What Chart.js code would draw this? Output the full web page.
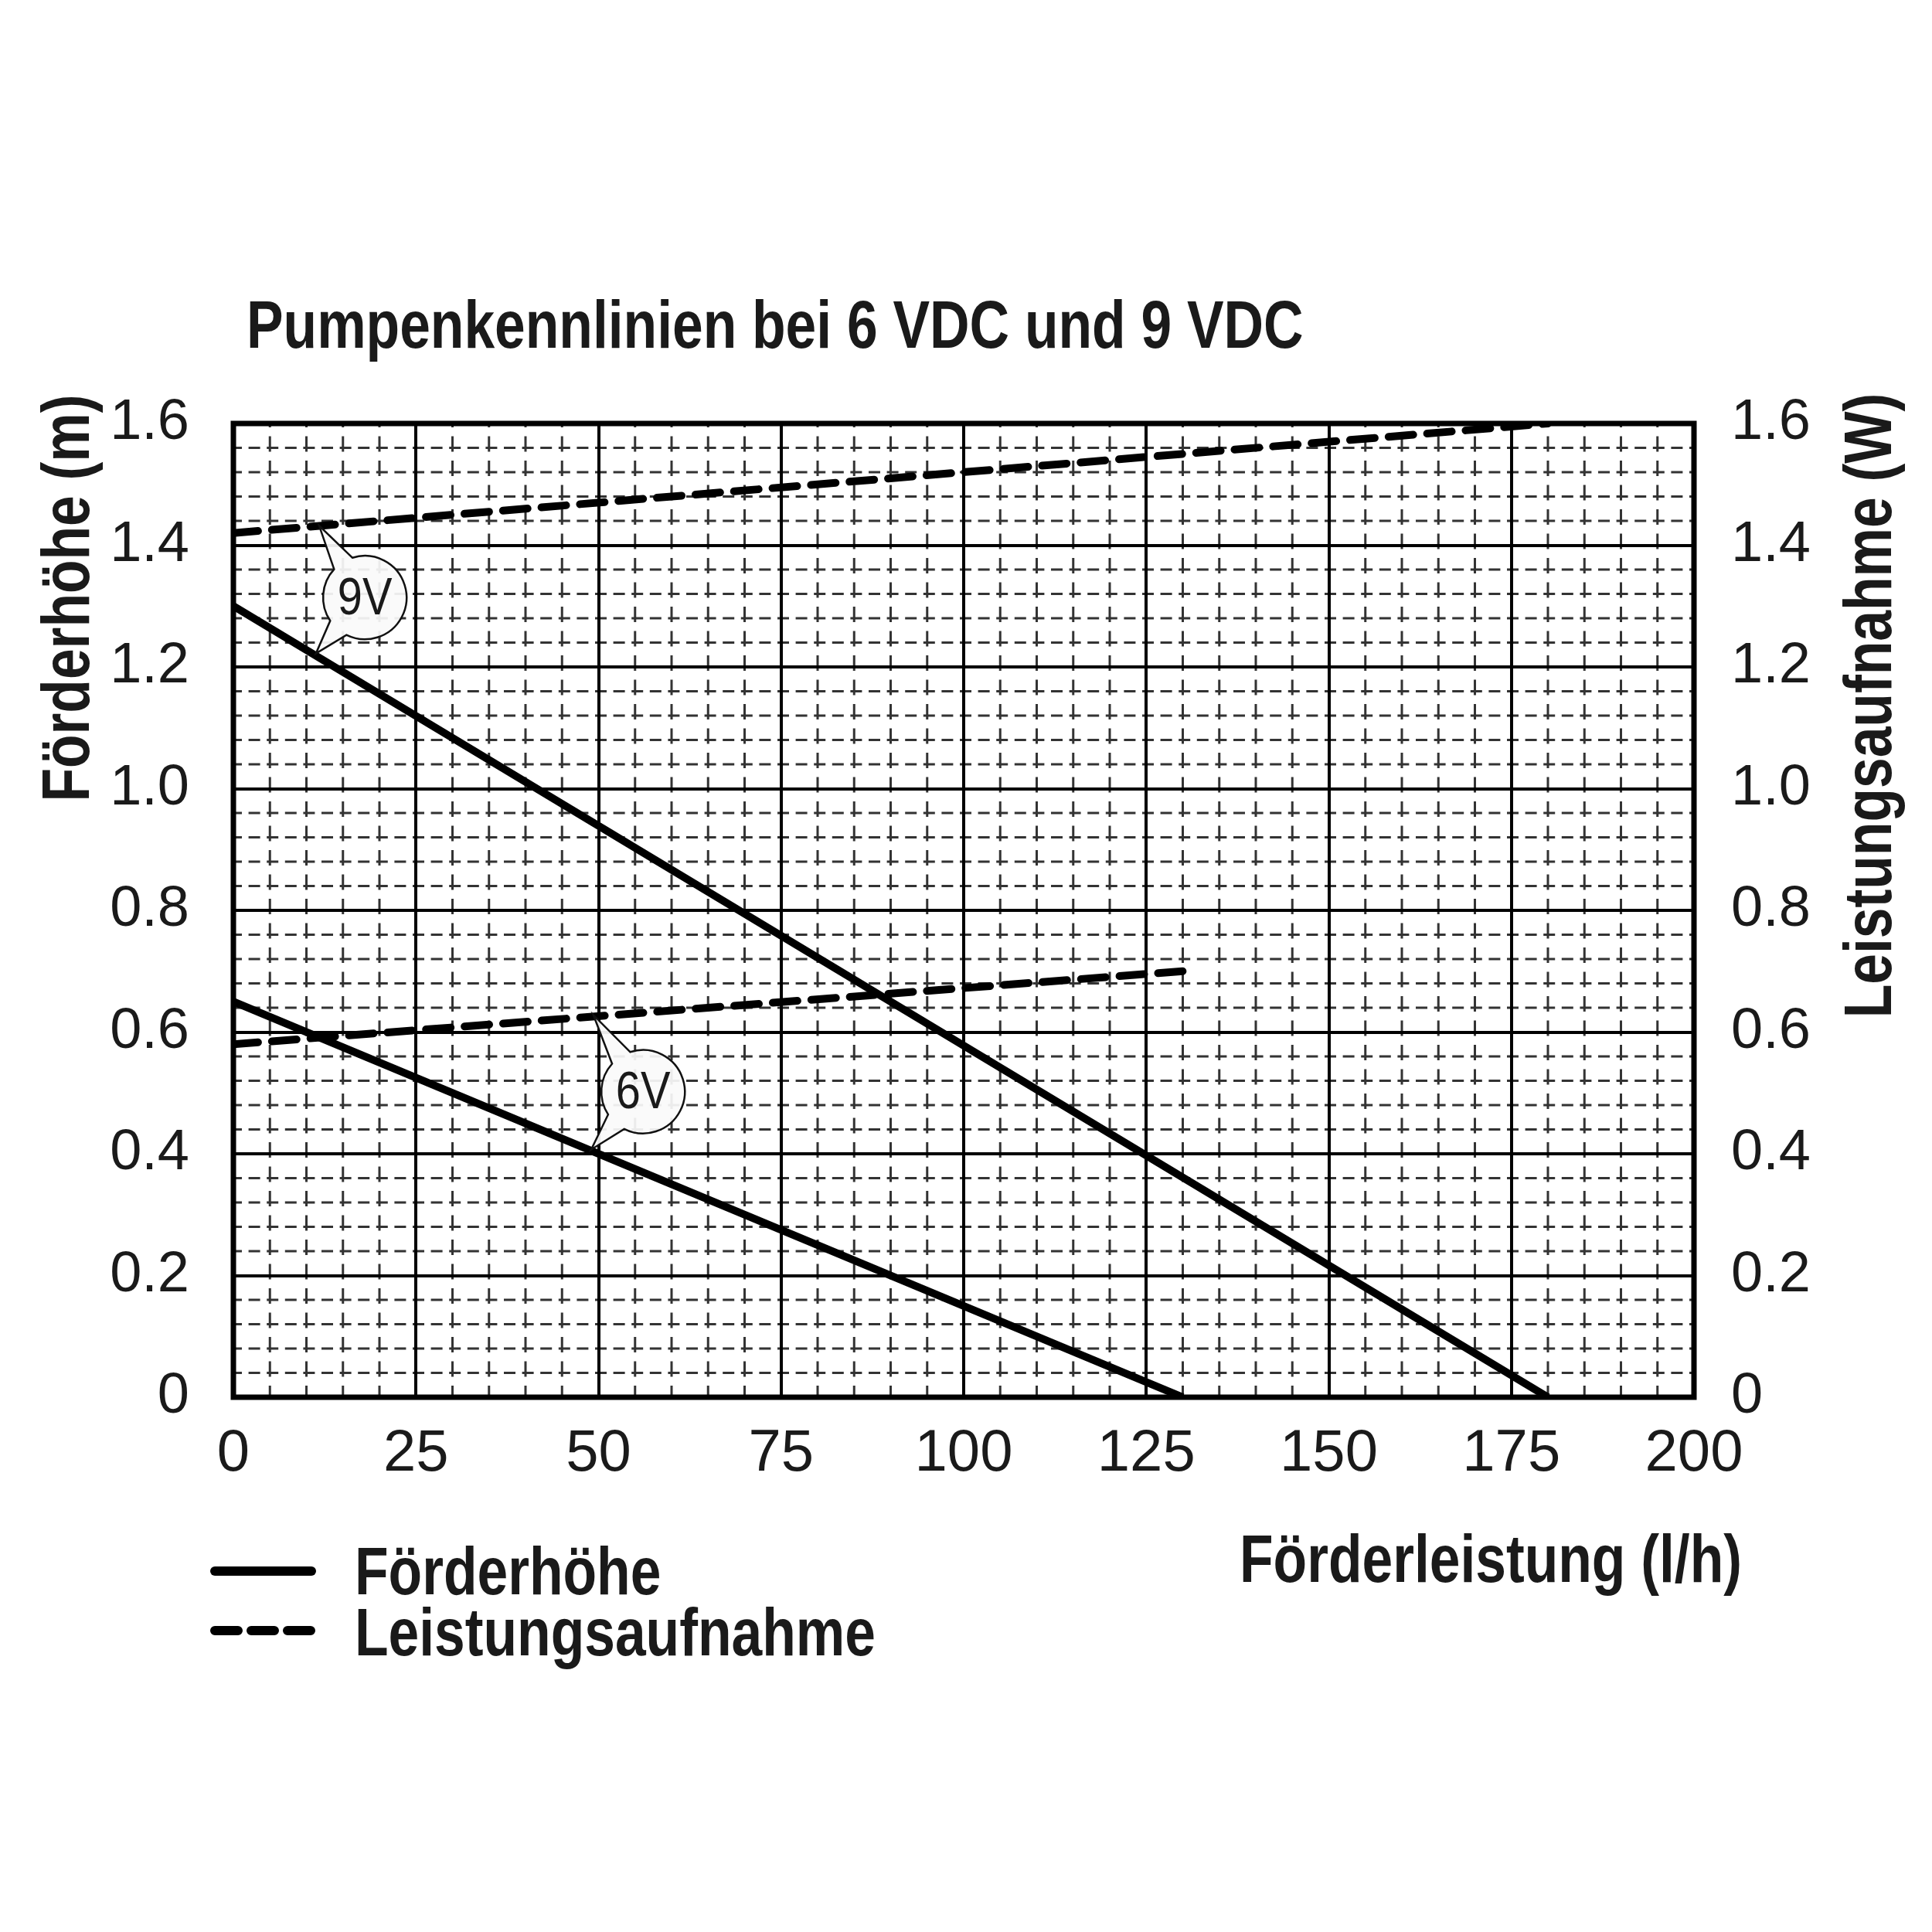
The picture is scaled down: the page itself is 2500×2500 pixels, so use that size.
<!DOCTYPE html>
<html>
<head>
<meta charset="utf-8">
<script src="https://cdn.jsdelivr.net/npm/chart.js@4.4.1/dist/chart.umd.min.js"></script>
<style>
  html, body { margin: 0; padding: 0; background: #ffffff; }
  #wrap { width: 2500px; height: 2500px; }
</style>
</head>
<body>
<div id="wrap"><canvas id="c" width="2500" height="2500"></canvas></div>
<script>
// ---- data ----
const flow9V = [0, 180];          // Förderleistung (l/h)
const head9V = [1.30, 0];         // Förderhöhe (m)
const flow6V = [0, 130];
const head6V = [0.65, 0];
const powerFlow9V = [0, 180];
const power9V = [1.42, 1.60];     // Leistungsaufnahme (W)
const powerFlow6V = [0, 130];
const power6V = [0.58, 0.70];

const xTickLabels = ['0', '25', '50', '75', '100', '125', '150', '175', '200'];
const yTickLabels = ['0', '0.2', '0.4', '0.6', '0.8', '1.0', '1.2', '1.4', '1.6'];
const legendLabels = ['Förderhöhe', 'Leistungsaufnahme'];
const chartTitle = 'Pumpenkennlinien bei 6 VDC und 9 VDC';
const xTitle = 'Förderleistung (l/h)';
const yTitle = 'Förderhöhe (m)';
const y2Title = 'Leistungsaufnahme (W)';

// callouts: label, centre (x,y), tip on power curve, tip on head curve
const calloutLabels = ['9V', '6V'];
const calloutCentres = [[18.0, 1.314], [56.1, 0.502]];
const calloutTipsPower = [[11.75, 1.432], [49.3, 0.628]];
const calloutTipsHead = [[11.3, 1.222], [49.0, 0.407]];

function pts(xs, ys) { return xs.map((x, i) => ({ x: x, y: ys[i] })); }

const FAM = "'Liberation Sans', Arial, sans-serif";
const INK = '#1a1a1a';

// draws condensed text (horizontal squeeze), optional rotation
function condText(ctx, text, x, y, opts) {
  ctx.save();
  ctx.translate(x, y);
  if (opts.rotate) ctx.rotate(opts.rotate);
  ctx.scale(opts.sx || 0.82, 1);
  ctx.font = (opts.bold ? 'bold ' : '') + opts.size + 'px ' + FAM;
  ctx.textAlign = opts.align || 'left';
  ctx.textBaseline = opts.baseline || 'alphabetic';
  ctx.fillStyle = opts.color || INK;
  ctx.fillText(text, 0, 0);
  ctx.restore();
}

const extras = {
  id: 'extras',
  beforeDraw(chart) {
    const { ctx, chartArea: a } = chart;
    const xs = chart.scales.x, ys = chart.scales.y;
    ctx.save();
    ctx.strokeStyle = '#333';
    ctx.lineWidth = 3;
    // minor vertical lines every 5 l/h
    ctx.setLineDash([20, 11.5]);
    for (let v = 5; v < 200; v += 5) {
      if (v % 25 === 0) continue;
      const px = xs.getPixelForValue(v);
      ctx.lineDashOffset = 5;
      ctx.beginPath(); ctx.moveTo(px, a.bottom); ctx.lineTo(px, a.top); ctx.stroke();
    }
    // minor horizontal lines every 0.04 m
    ctx.setLineDash([15, 8.6]);
    for (let k = 1; k < 40; k++) {
      if (k % 5 === 0) continue;
      const py = ys.getPixelForValue(k * 0.04);
      ctx.lineDashOffset = 4;
      ctx.beginPath(); ctx.moveTo(a.left, py); ctx.lineTo(a.right, py); ctx.stroke();
    }
    ctx.restore();
  },
  afterDatasetsDraw(chart) {
    const { ctx, chartArea: a } = chart;
    const xs = chart.scales.x, ys = chart.scales.y;
    ctx.save();
    // frame
    ctx.strokeStyle = '#000';
    ctx.lineWidth = 7;
    ctx.setLineDash([]);
    ctx.strokeRect(a.left, a.top, a.right - a.left, a.bottom - a.top);

    // callouts
    const R = 54, d = 15 * Math.PI / 180;
    calloutLabels.forEach((lab, i) => {
      const cx = xs.getPixelForValue(calloutCentres[i][0]);
      const cy = ys.getPixelForValue(calloutCentres[i][1]);
      const t1x = xs.getPixelForValue(calloutTipsPower[i][0]);
      const t1y = ys.getPixelForValue(calloutTipsPower[i][1]);
      const t2x = xs.getPixelForValue(calloutTipsHead[i][0]);
      const t2y = ys.getPixelForValue(calloutTipsHead[i][1]);
      const a1 = Math.atan2(t1y - cy, t1x - cx);
      let a2 = Math.atan2(t2y - cy, t2x - cx);
      if (a2 < a1) a2 += 2 * Math.PI;
      ctx.beginPath();
      ctx.moveTo(cx + R * Math.cos(a1 - d), cy + R * Math.sin(a1 - d));
      ctx.lineTo(t1x, t1y);
      ctx.lineTo(cx + R * Math.cos(a1 + d), cy + R * Math.sin(a1 + d));
      ctx.arc(cx, cy, R, a1 + d, a2 - d, false);
      ctx.lineTo(t2x, t2y);
      ctx.lineTo(cx + R * Math.cos(a2 + d), cy + R * Math.sin(a2 + d));
      ctx.arc(cx, cy, R, a2 + d, a1 - d + 2 * Math.PI, false);
      ctx.closePath();
      ctx.fillStyle = 'rgba(250,250,250,0.93)';
      ctx.fill();
      ctx.lineWidth = 2.5;
      ctx.strokeStyle = '#111';
      ctx.lineJoin = 'miter';
      ctx.stroke();
      condText(ctx, lab, cx, cy + 3, { size: 68, sx: 0.85, align: 'center', baseline: 'middle' });
    });

    // texts
    condText(ctx, chartTitle, 319, 450, { size: 87, bold: true });
    condText(ctx, xTitle, 2254, 2047, { size: 87, bold: true, align: 'right' });
    condText(ctx, yTitle, 115, 774, { size: 87, bold: true, align: 'center', rotate: -Math.PI / 2 });
    condText(ctx, y2Title, 2447, 913, { size: 87, bold: true, align: 'center', rotate: -Math.PI / 2 });

    // legend
    ctx.strokeStyle = '#000';
    ctx.lineWidth = 12;
    ctx.lineCap = 'round';
    ctx.setLineDash([]);
    ctx.beginPath(); ctx.moveTo(278, 2033); ctx.lineTo(403, 2033); ctx.stroke();
    ctx.setLineDash([30, 17]);
    ctx.beginPath(); ctx.moveTo(278, 2110); ctx.lineTo(403, 2110); ctx.stroke();
    ctx.setLineDash([]);
    condText(ctx, legendLabels[0], 459, 2063, { size: 87, bold: true });
    condText(ctx, legendLabels[1], 459, 2142, { size: 87, bold: true });
    ctx.restore();
  }
};

const solid = { borderColor: '#000', borderWidth: 10, pointRadius: 0, fill: false, tension: 0, borderCapStyle: 'butt' };
const dashed = { borderColor: '#000', borderWidth: 10, pointRadius: 0, fill: false, tension: 0, borderDash: [32, 18], borderCapStyle: 'round' };

new Chart(document.getElementById('c'), {
  type: 'line',
  data: {
    datasets: [
      Object.assign({ label: 'Förderhöhe 9V', data: pts(flow9V, head9V), yAxisID: 'y' }, solid),
      Object.assign({ label: 'Förderhöhe 6V', data: pts(flow6V, head6V), yAxisID: 'y' }, solid),
      Object.assign({ label: 'Leistungsaufnahme 9V', data: pts(powerFlow9V, power9V), yAxisID: 'y2' }, dashed),
      Object.assign({ label: 'Leistungsaufnahme 6V', data: pts(powerFlow6V, power6V), yAxisID: 'y2' }, dashed)
    ]
  },
  options: {
    responsive: false,
    animation: false,
    devicePixelRatio: 1,
    layout: { padding: { left: 2, right: 8, top: 548, bottom: 542 } },
    plugins: { legend: { display: false }, title: { display: false }, tooltip: { enabled: false } },
    scales: {
      x: {
        type: 'linear', min: 0, max: 200,
        afterFit: s => { s.height = 150; },
        ticks: { stepSize: 25, padding: 28, color: INK, font: { family: FAM, size: 76 },
                 maxRotation: 0, autoSkip: false,
                 callback: (v, i) => xTickLabels[i] },
        grid: { color: '#000', lineWidth: 4, drawTicks: false },
        border: { display: false }
      },
      y: {
        position: 'left', min: 0, max: 1.6,
        afterFit: s => { s.width = 300; },
        ticks: { stepSize: 0.2, padding: 57, color: INK, font: { family: FAM, size: 74 },
                 autoSkip: false, callback: (v, i) => yTickLabels[i] },
        grid: { color: '#000', lineWidth: 4, drawTicks: false },
        border: { display: false }
      },
      y2: {
        position: 'right', min: 0, max: 1.6,
        afterFit: s => { s.width = 300; },
        ticks: { stepSize: 0.2, padding: 48, color: INK, font: { family: FAM, size: 74 },
                 autoSkip: false, callback: (v, i) => yTickLabels[i] },
        grid: { drawOnChartArea: false, drawTicks: false },
        border: { display: false }
      }
    }
  },
  plugins: [extras]
});
</script>
</body>
</html>
